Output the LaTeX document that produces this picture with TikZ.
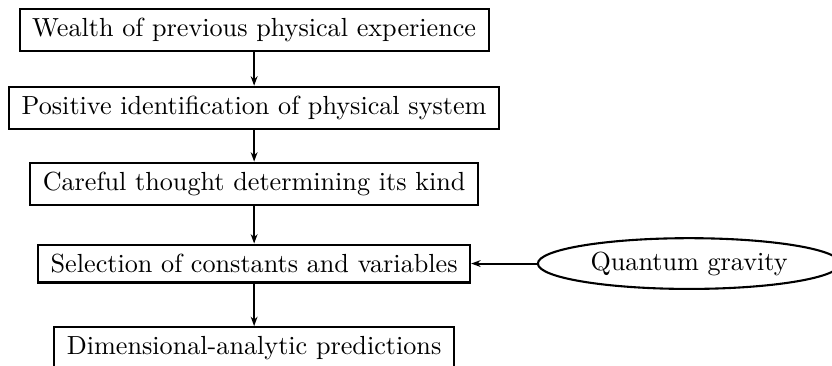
\documentclass[tikz,border=0pt]{standalone}
\usetikzlibrary{shapes.geometric,arrows.meta}
\begin{document}
\begin{tikzpicture}[x=1pt,y=1pt,
  stepbox/.style={draw,thick,rectangle,inner xsep=4.8pt,inner ysep=3.6pt},
  oval/.style={draw,thick,ellipse,inner xsep=3.2pt,inner ysep=2.3pt},
  flow/.style={-{Stealth[length=3.6pt,width=2.6pt]},thick}]
\clip (0,0) rectangle (317.9,-139.5);
\useasboundingbox (0,0) rectangle (317.9,-139.5);
\node[stepbox] (a) at (97.1,-11.5) {Wealth of previous physical experience};
\node[stepbox] (b) at (97.1,-41.3) {Positive identification of physical system};
\node[stepbox] (c) at (97.1,-70.3) {Careful thought determining its kind};
\node[stepbox] (d) at (97.1,-100.7) {Selection of constants and variables};
\node[stepbox,anchor=north] (e) at (97.1,-124.6) {Dimensional-analytic predictions};
\node[oval] (q) at (263.3,-100.7) {Quantum gravity};
\draw[flow] (a) -- (b);
\draw[flow] (b) -- (c);
\draw[flow] (c) -- (d);
\draw[flow] (d) -- (e);
\draw[flow] (q) -- (d);
\end{tikzpicture}
\end{document}
